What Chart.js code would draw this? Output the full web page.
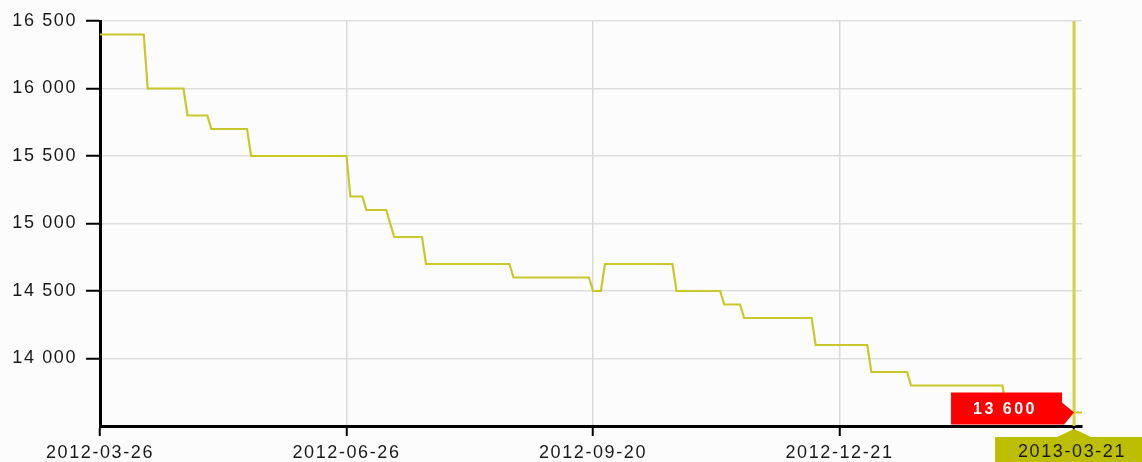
<!DOCTYPE html>
<html lang="en">
<head>
    <meta charset="UTF-8">
    <title>Price history</title>
    <script src="https://cdn.jsdelivr.net/npm/chart.js"></script>
    <style>
        html, body { margin: 0; padding: 0; background: #fcfcfc; }
        canvas { display: block; }
    </style>
</head>
<body>
<canvas id="priceChart" width="1142" height="462"></canvas>

<script>
    // step points of the price line (x = session index, y = price)
    const stepIndex = [0, 11, 12, 21, 22, 27, 28, 37, 38, 62, 63, 66, 67, 72, 74, 81, 82, 103, 104,
                       123, 124, 126, 127, 144, 145, 156, 157, 161, 162, 179, 180, 193, 194, 203, 204,
                       227, 228, 247];
    const stepPrice = [16400, 16400, 16000, 16000, 15800, 15800, 15700, 15700, 15500, 15500, 15200,
                       15200, 15100, 15100, 14900, 14900, 14700, 14700, 14600, 14600, 14500, 14500,
                       14700, 14700, 14500, 14500, 14400, 14400, 14300, 14300, 14100, 14100, 13900,
                       13900, 13800, 13800, 13600, 13600];

    const tickIndex = [0, 62, 124, 186, 245];
    const tickLabels = ['2012-03-26', '2012-06-26', '2012-09-20', '2012-12-21', '2013-03-21'];
    const yTicks = [14000, 14500, 15000, 15500, 16000, 16500];

    const markerIndex = 245;
    const markerPrice = stepPrice[stepPrice.length - 1];

    const FONT = "'Liberation Sans', Arial, sans-serif";
    const SPACING = '1.6px';

    function fmt(v) {
        return String(v).replace(/\B(?=(\d{3})+(?!\d))/g, ' ');
    }

    // the original picture is stretched sideways, letter spacing fakes that
    const spacingPlugin = {
        id: 'spacing',
        beforeUpdate(chart) { chart.ctx.letterSpacing = SPACING; },
        beforeDraw(chart) { chart.ctx.letterSpacing = SPACING; }
    };

    const markerPlugin = {
        id: 'marker',
        afterDatasetsDraw(chart) {
            const { ctx, chartArea, scales } = chart;
            const px = scales.x.getPixelForValue(markerIndex);
            ctx.save();
            ctx.strokeStyle = '#d2d244';
            ctx.lineWidth = 3;
            ctx.beginPath();
            ctx.moveTo(px, chartArea.top);
            ctx.lineTo(px, chartArea.bottom);
            ctx.stroke();
            ctx.restore();
        },
        afterDraw(chart) {
            const { ctx, scales } = chart;
            const px = scales.x.getPixelForValue(markerIndex);
            const py = scales.y.getPixelForValue(markerPrice);
            ctx.save();

            // red value flag
            ctx.fillStyle = '#ff0000';
            ctx.beginPath();
            ctx.moveTo(px - 123, py - 20);
            ctx.lineTo(px - 12, py - 20);
            ctx.lineTo(px - 12, py - 10);
            ctx.lineTo(px, py);
            ctx.lineTo(px - 10, py + 12);
            ctx.lineTo(px - 123, py + 12);
            ctx.closePath();
            ctx.fill();
            ctx.fillStyle = '#ffffff';
            ctx.font = 'bold 16px ' + FONT;
            ctx.letterSpacing = '2.5px';
            ctx.textAlign = 'center';
            ctx.textBaseline = 'middle';
            ctx.fillText(fmt(markerPrice), px - 69, py - 3);

            // olive date box under the axis
            const top = chart.chartArea.bottom + 11;
            ctx.fillStyle = '#bebe00';
            ctx.beginPath();
            ctx.moveTo(px - 79, top);
            ctx.lineTo(px - 17, top);
            ctx.lineTo(px, top - 8);
            ctx.lineTo(px + 17, top);
            ctx.lineTo(px + 79, top);
            ctx.lineTo(px + 79, chart.height);
            ctx.lineTo(px - 79, chart.height);
            ctx.closePath();
            ctx.fill();
            ctx.fillStyle = '#1a1a1a';
            ctx.font = '18px ' + FONT;
            ctx.letterSpacing = SPACING;
            ctx.fillText(tickLabels[tickIndex.indexOf(markerIndex)], px - 2, top + 15);
            ctx.restore();
        }
    };

    const ctx = document.getElementById('priceChart').getContext('2d');
    new Chart(ctx, {
        type: 'line',
        data: {
            datasets: [{
                data: stepIndex.map((x, i) => ({ x: x, y: stepPrice[i] })),
                borderColor: '#c8c82a',
                borderWidth: 2.2,
                pointRadius: 0,
                tension: 0,
                fill: false
            }]
        },
        options: {
            responsive: false,
            animation: false,
            devicePixelRatio: 1,
            events: [],
            layout: { padding: { top: 21, right: 60, left: 0, bottom: 0 } },
            plugins: {
                legend: { display: false },
                tooltip: { enabled: false }
            },
            scales: {
                x: {
                    type: 'linear',
                    min: 0,
                    max: 247,
                    afterBuildTicks: s => { s.ticks = tickIndex.map(v => ({ value: v })); },
                    afterFit: s => { s.height = 36; },
                    ticks: {
                        autoSkip: false,
                        maxRotation: 0,
                        padding: 6,
                        color: '#1a1a1a',
                        font: { family: FONT, size: 18 },
                        callback: v => v === markerIndex ? '' : tickLabels[tickIndex.indexOf(v)]
                    },
                    grid: { color: '#d9d9d9', lineWidth: 1.5, tickColor: '#000', tickLength: 10, tickWidth: 2 },
                    border: { color: '#000', width: 3 }
                },
                y: {
                    min: 13500,
                    max: 16500,
                    afterBuildTicks: s => { s.ticks = yTicks.map(v => ({ value: v })); },
                    afterFit: s => { s.width = 100; },
                    ticks: {
                        padding: 9,
                        color: '#1a1a1a',
                        font: { family: FONT, size: 18 },
                        callback: v => fmt(v)
                    },
                    grid: { color: '#dedede', lineWidth: 1.5, tickColor: '#000', tickLength: 14, tickWidth: 2 },
                    border: { color: '#000', width: 3 }
                }
            }
        },
        plugins: [spacingPlugin, markerPlugin]
    });
</script>
</body>
</html>
